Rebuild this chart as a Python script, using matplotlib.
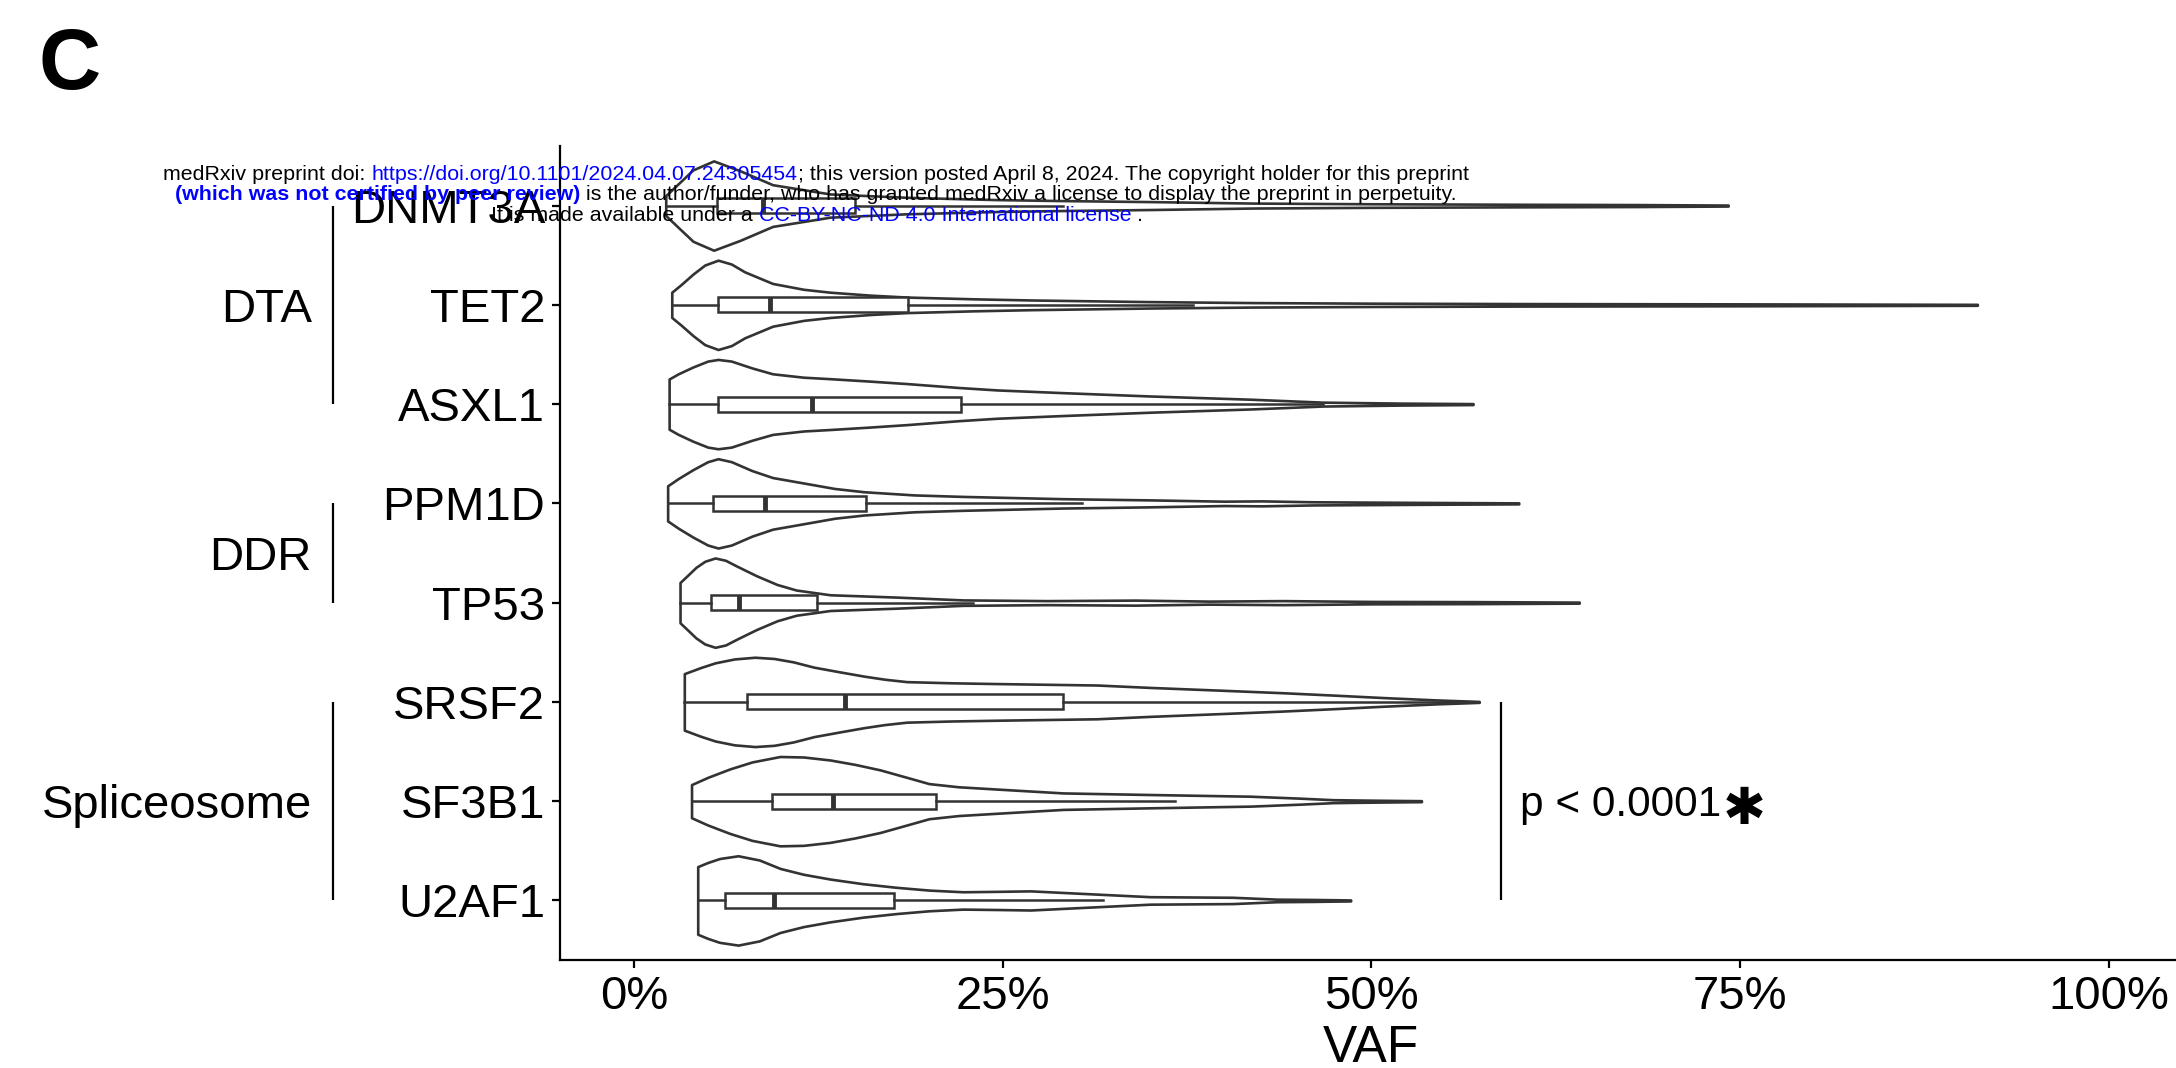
import numpy as np
import matplotlib
matplotlib.use("Agg")
import matplotlib.pyplot as plt
from matplotlib.transforms import blended_transform_factory

# ---------------------------------------------------------------------------
# Data
# ---------------------------------------------------------------------------
genes = ["DNMT3A", "TET2", "ASXL1", "PPM1D", "TP53", "SRSF2", "SF3B1", "U2AF1"]

group_names = ["DTA", "DDR", "Spliceosome"]
group_first = ["DNMT3A", "PPM1D", "SRSF2"]
group_last = ["ASXL1", "TP53", "U2AF1"]

# Box-plot statistics (VAF as a fraction)
whisker_low = [0.0215, 0.0256, 0.0238, 0.0228, 0.0312, 0.0341, 0.0390, 0.0432]
q1 = [0.0560, 0.0568, 0.0568, 0.0538, 0.0520, 0.0769, 0.0934, 0.0617]
median = [0.0877, 0.0920, 0.1205, 0.0889, 0.0712, 0.1430, 0.1350, 0.0950]
q3 = [0.1500, 0.1860, 0.2220, 0.1570, 0.1244, 0.2910, 0.2050, 0.1766]
whisker_high = [0.2910, 0.3790, 0.4670, 0.3040, 0.2300, 0.5730, 0.3670, 0.3180]

# Kernel-density profiles of VAF per gene (grid points, relative density)
vaf_DNMT3A = [0.0215, 0.030, 0.040, 0.054, 0.072, 0.094, 0.133, 0.185, 0.246,
              0.291, 0.35, 0.42, 0.50, 0.60, 0.68, 0.742]
dens_DNMT3A = [10, 22, 36, 45, 35, 21, 11.7, 8.3, 6, 5, 4, 2.5, 1.8, 1.3, 1.0, 0.5]

vaf_TET2 = [0.0256, 0.032, 0.040, 0.048, 0.057, 0.066, 0.075, 0.094, 0.115, 0.133,
            0.16, 0.185, 0.23, 0.269, 0.35, 0.42, 0.50, 0.60, 0.75, 0.911]
dens_TET2 = [13, 21, 31.7, 41, 46, 42, 34, 22, 16, 13, 10, 8, 6.2, 5, 3.3, 2.3,
             1.7, 1.3, 1.0, 0.5]

vaf_ASXL1 = [0.0238, 0.030, 0.040, 0.050, 0.057, 0.066, 0.080, 0.094, 0.115, 0.133,
             0.16, 0.185, 0.22, 0.246, 0.291, 0.35, 0.418, 0.467, 0.52, 0.569]
dens_ASXL1 = [25.7, 31, 38, 44, 45.7, 44, 37, 31, 27.5, 26, 23.5, 21, 17, 14.5,
              11.7, 8.3, 5, 2, 1.0, 0.5]

vaf_PPM1D = [0.0228, 0.030, 0.040, 0.050, 0.057, 0.066, 0.080, 0.094, 0.117, 0.136,
             0.156, 0.19, 0.223, 0.291, 0.35, 0.40, 0.426, 0.46, 0.53, 0.60]
dens_PPM1D = [17.7, 25, 34, 42, 45, 42, 33, 26, 20, 15, 11.7, 8.5, 7, 4.7, 3.5,
              2.2, 2.5, 1.6, 1.0, 0.5]

vaf_TP53 = [0.0312, 0.037, 0.042, 0.048, 0.055, 0.062, 0.070, 0.083, 0.097, 0.110,
            0.133, 0.178, 0.223, 0.28, 0.34, 0.39, 0.44, 0.50, 0.57, 0.641]
dens_TP53 = [20, 28, 35, 41, 44.3, 42, 36, 26.7, 18, 12.5, 7.8, 5.5, 2.7, 2.0, 2.5,
             1.5, 2.0, 1.2, 1.0, 0.5]

vaf_SRSF2 = [0.0341, 0.045, 0.055, 0.068, 0.082, 0.095, 0.108, 0.122, 0.14, 0.156,
             0.170, 0.185, 0.215, 0.246, 0.314, 0.35, 0.40, 0.44, 0.475, 0.508,
             0.545, 0.573]
dens_SRSF2 = [29.3, 35.5, 40.5, 44.5, 46.3, 45, 41.5, 36, 31, 26.7, 23.5, 21, 19.8,
              19, 17.5, 15, 12, 9.5, 7, 4.5, 2, 0.5]

vaf_SF3B1 = [0.039, 0.050, 0.065, 0.080, 0.099, 0.115, 0.133, 0.150, 0.167, 0.185,
             0.20, 0.22, 0.246, 0.291, 0.35, 0.418, 0.452, 0.474, 0.50, 0.534]
dens_SF3B1 = [16.7, 24, 32.5, 39.5, 45, 44.5, 41.5, 37, 31.5, 24, 17.7, 14.5, 12.2,
              8.3, 6.7, 5, 3, 1.5, 1.0, 0.5]

vaf_U2AF1 = [0.0432, 0.050, 0.058, 0.0706, 0.085, 0.099, 0.115, 0.133, 0.155, 0.178,
             0.20, 0.223, 0.246, 0.269, 0.303, 0.35, 0.406, 0.436, 0.46, 0.486]
dens_U2AF1 = [34.3, 38.5, 42.5, 45.3, 41, 32.5, 26.5, 21.7, 17, 13.3, 10.5, 8.8,
              9.2, 9.7, 7.2, 3.8, 3.2, 1.3, 1.0, 0.5]

x_ticks = [0.0, 0.25, 0.5, 0.75, 1.0]
x_tick_labels = ["0%", "25%", "50%", "75%", "100%"]
p_label = "p < 0.0001"

# ---------------------------------------------------------------------------
# Figure
# ---------------------------------------------------------------------------
W, H, DPI = 2176, 1068, 100
FONT = "Liberation Sans"
INK = "#333333"
plt.rcParams["font.family"] = [FONT, "DejaVu Sans"]

fig = plt.figure(figsize=(W / DPI, H / DPI), dpi=DPI)
fig.patch.set_facecolor("white")

# axes placement in pixels
ax_left, ax_top, ax_bottom = 560.3, 146.0, 960.0
ax_width = 1622.0
ax = fig.add_axes([ax_left / W, 1 - ax_bottom / H, ax_width / W, (ax_bottom - ax_top) / H])
ax.set_xlim(-0.05, 1.05)
ax.set_ylim(0.4, len(genes) + 0.6)

positions = [len(genes) - i for i in range(len(genes))]   # first gene on top
pos_of = dict(zip(genes, positions))

profiles_vaf = [vaf_DNMT3A, vaf_TET2, vaf_ASXL1, vaf_PPM1D, vaf_TP53, vaf_SRSF2,
                vaf_SF3B1, vaf_U2AF1]
profiles_dens = [dens_DNMT3A, dens_TET2, dens_ASXL1, dens_PPM1D, dens_TP53,
                 dens_SRSF2, dens_SF3B1, dens_U2AF1]

vpstats = []
for c, v, med in zip(profiles_vaf, profiles_dens, median):
    c = np.asarray(c, float)
    v = np.asarray(v, float)
    vpstats.append(dict(coords=c, vals=v, mean=float(np.average(c, weights=v)),
                        median=med, min=c[0], max=c[-1]))

try:
    parts = ax.violin(vpstats, positions=positions, orientation="horizontal",
                      widths=0.9, showmeans=False, showextrema=False, showmedians=False)
except TypeError:
    parts = ax.violin(vpstats, positions=positions, vert=False,
                      widths=0.9, showmeans=False, showextrema=False, showmedians=False)
for body in parts["bodies"]:
    body.set_facecolor("white")
    body.set_edgecolor(INK)
    body.set_linewidth(1.9)
    body.set_alpha(1)
    body.set_zorder(2)

bstats = []
for g, lo, a, m, b, hi in zip(genes, whisker_low, q1, median, q3, whisker_high):
    bstats.append(dict(label=g, whislo=lo, q1=a, med=m, q3=b, whishi=hi, fliers=[]))

box_kw = dict(positions=positions, widths=0.15, patch_artist=True, showcaps=False,
              showfliers=False, manage_ticks=False,
              boxprops=dict(facecolor="white", edgecolor=INK, linewidth=1.8),
              medianprops=dict(color=INK, linewidth=3.5, solid_capstyle="butt"),
              whiskerprops=dict(color=INK, linewidth=1.8), zorder=3)
try:
    ax.bxp(bstats, orientation="horizontal", **box_kw)
except TypeError:
    ax.bxp(bstats, vert=False, **box_kw)

# axes styling
for side in ("top", "right"):
    ax.spines[side].set_visible(False)
for side in ("left", "bottom"):
    ax.spines[side].set_linewidth(1.6)
    ax.spines[side].set_color("black")
ax.set_yticks(positions)
ax.set_yticklabels(genes)
ax.set_xticks(x_ticks)
ax.set_xticklabels(x_tick_labels)
ax.tick_params(axis="both", length=5.5, width=1.6, color="black", labelsize=34,
               labelcolor="black")
ax.tick_params(axis="y", pad=5.5)
ax.tick_params(axis="x", pad=5.0)

ax.set_xlabel("VAF", fontsize=37)
ax.xaxis.set_label_coords(0.5, -(1062 - ax_bottom) / (ax_bottom - ax_top))
ax.xaxis.label.set_verticalalignment("baseline")

# gene-group brackets on the left
def px_to_axes_x(px):
    return (px - ax_left) / ax_width

ytrans = blended_transform_factory(ax.transAxes, ax.transData)
for name, first, last in zip(group_names, group_first, group_last):
    y0, y1 = pos_of[first], pos_of[last]
    ax.plot([px_to_axes_x(333)] * 2, [y0, y1], color="black", lw=1.6,
            transform=ytrans, clip_on=False, solid_capstyle="butt")
    ax.text(px_to_axes_x(312), (y0 + y1) / 2, name, transform=ytrans, ha="right",
            va="center_baseline", fontsize=34, color="black")

renderer = fig.canvas.get_renderer()

# significance bracket for the splicing-factor genes
ax.plot([0.588, 0.588], [pos_of["SRSF2"], pos_of["U2AF1"]], color="black", lw=1.6,
        solid_capstyle="butt", clip_on=False)
p_text = ax.text(0.601, pos_of["SF3B1"] - 0.15, p_label, ha="left", va="baseline",
                 fontsize=30.5, color="black")
p_right_px = p_text.get_window_extent(renderer).x1
star_x = ax.transData.inverted().transform((p_right_px + 1, 0))[0]
ax.text(star_x, pos_of["SF3B1"] - 0.085, "\u2731", ha="left", va="center",
        fontsize=37, color="black", family="DejaVu Sans")

# panel letter
fig.text(38 / W, 1 - 89 / H, "C", fontsize=62, fontweight="bold", color="black",
         ha="left", va="baseline")

# preprint notice across the top
def seg_width(s, **kw):
    t = fig.text(0, 0, "|" + s + "|", **kw)
    w = t.get_window_extent(renderer).width
    t.remove()
    t = fig.text(0, 0, "||", **kw)
    w0 = t.get_window_extent(renderer).width
    t.remove()
    return w - w0


def centered_line(segments, cx, baseline, size):
    widths = [seg_width(s, fontsize=size, fontweight=wt) for s, c, wt in segments]
    x = cx - sum(widths) / 2
    for (s, c, wt), w in zip(segments, widths):
        fig.text(x / W, 1 - baseline / H, s, fontsize=size, fontweight=wt, color=c,
                 ha="left", va="baseline", zorder=10)
        x += w


BLUE = "#0000ff"
note_size = 15.4
centered_line([("medRxiv preprint doi: ", "black", "normal"),
               ("https://doi.org/10.1101/2024.04.07.24305454", BLUE, "normal"),
               ("; this version posted April 8, 2024. The copyright holder for this preprint",
                "black", "normal")], 816, 180, note_size)
centered_line([("(which was not certified by peer review)", BLUE, "bold"),
               (" is the author/funder, who has granted medRxiv a license to display the preprint in perpetuity.",
                "black", "normal")], 815.5, 200, note_size)
centered_line([("It is made available under a ", "black", "normal"),
               ("CC-BY-NC-ND 4.0 International license", BLUE, "normal"),
               (" .", "black", "normal")], 817, 221, note_size)

fig.savefig("out.png", dpi=DPI, facecolor="white")
